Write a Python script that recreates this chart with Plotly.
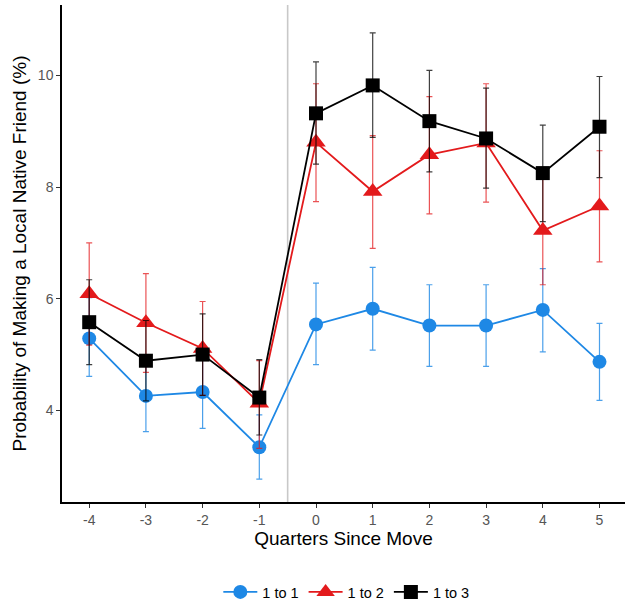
import plotly.graph_objects as go

quarters = [-4, -3, -2, -1, 0, 1, 2, 3, 4, 5]

# 1 to 1
s1_val = [5.29, 4.26, 4.33, 3.34, 5.54, 5.82, 5.52, 5.52, 5.80, 4.87]
s1_lo = [4.61, 3.62, 3.68, 2.77, 4.82, 5.08, 4.79, 4.79, 5.05, 4.18]
s1_hi = [6.02, 4.90, 4.98, 3.92, 6.28, 6.56, 6.25, 6.25, 6.54, 5.56]

# 1 to 2
s2_val = [6.09, 5.57, 5.11, 4.13, 8.80, 7.92, 8.58, 8.79, 7.22, 7.66]
s2_lo = [5.17, 4.68, 4.27, 3.32, 7.74, 6.90, 7.52, 7.73, 6.25, 6.66]
s2_hi = [7.00, 6.45, 5.95, 4.89, 9.85, 8.92, 9.62, 9.85, 8.17, 8.65]

# 1 to 3
s3_val = [5.58, 4.89, 5.00, 4.23, 9.32, 9.82, 9.18, 8.87, 8.25, 9.08]
s3_lo = [4.82, 4.17, 4.27, 3.56, 8.41, 8.89, 8.27, 7.98, 7.38, 8.17]
s3_hi = [6.34, 5.61, 5.73, 4.91, 10.24, 10.76, 10.09, 9.77, 9.11, 9.98]

names = ["1 to 1", "1 to 2", "1 to 3"]
colors = ["#1E88E5", "#E31A1C", "#000000"]
err_colors = ["rgba(30,136,229,0.8)", "rgba(227,26,28,0.75)", "rgba(0,0,0,0.75)"]
symbols = ["circle", "triangle-up", "square"]
sizes = [14, 17, 14]

fig = go.Figure()
for name, col, ecol, sym, sz, v, lo, hi in zip(
    names, colors, err_colors, symbols, sizes,
    [s1_val, s2_val, s3_val], [s1_lo, s2_lo, s3_lo], [s1_hi, s2_hi, s3_hi]):
    fig.add_trace(go.Scatter(
        x=quarters, y=v, name=name, mode="lines+markers",
        line=dict(color=col, width=1.8),
        marker=dict(symbol=sym, size=sz, color=col, line=dict(width=0)),
        error_y=dict(type="data", symmetric=False,
                     array=[h - a for h, a in zip(hi, v)],
                     arrayminus=[a - l for a, l in zip(v, lo)],
                     color=ecol, thickness=1.2, width=3),
    ))

fig.add_shape(type="line", xref="x", yref="paper", x0=-0.5, x1=-0.5, y0=0, y1=1,
              line=dict(color="#c8c8c8", width=1.6), layer="below")

fig.update_layout(
    width=625, height=608,
    margin=dict(l=62, r=0, t=5, b=104),
    paper_bgcolor="white", plot_bgcolor="white",
    font=dict(family="Liberation Sans, Arial, sans-serif", size=14, color="#000"),
    showlegend=True,
    legend=dict(orientation="h", x=0.505, xanchor="center", y=-0.182, yanchor="middle",
                font=dict(size=14.5), itemwidth=34, traceorder="normal"),
    xaxis=dict(
        range=[-4.48, 5.45], tickmode="array", tickvals=quarters,
        ticktext=[str(q) for q in quarters],
        showgrid=False, zeroline=False, showline=True, linecolor="#000", linewidth=1.5,
        ticks="outside", ticklen=4, tickcolor="#333", tickwidth=1,
        tickfont=dict(size=14, color="#555"),
        title=dict(text="Quarters Since Move", font=dict(size=19, color="#000"), standoff=4),
    ),
    yaxis=dict(
        range=[2.36, 11.26], tickmode="array", tickvals=[4, 6, 8, 10],
        showgrid=False, zeroline=False, showline=True, linecolor="#000", linewidth=1.5,
        ticks="outside", ticklen=4, tickcolor="#333", tickwidth=1,
        tickfont=dict(size=14, color="#555"),
        title=dict(text="Probability of Making a Local Native Friend (%)",
                   font=dict(size=19, color="#000"), standoff=6),
    ),
)

fig.write_html("out.html")
